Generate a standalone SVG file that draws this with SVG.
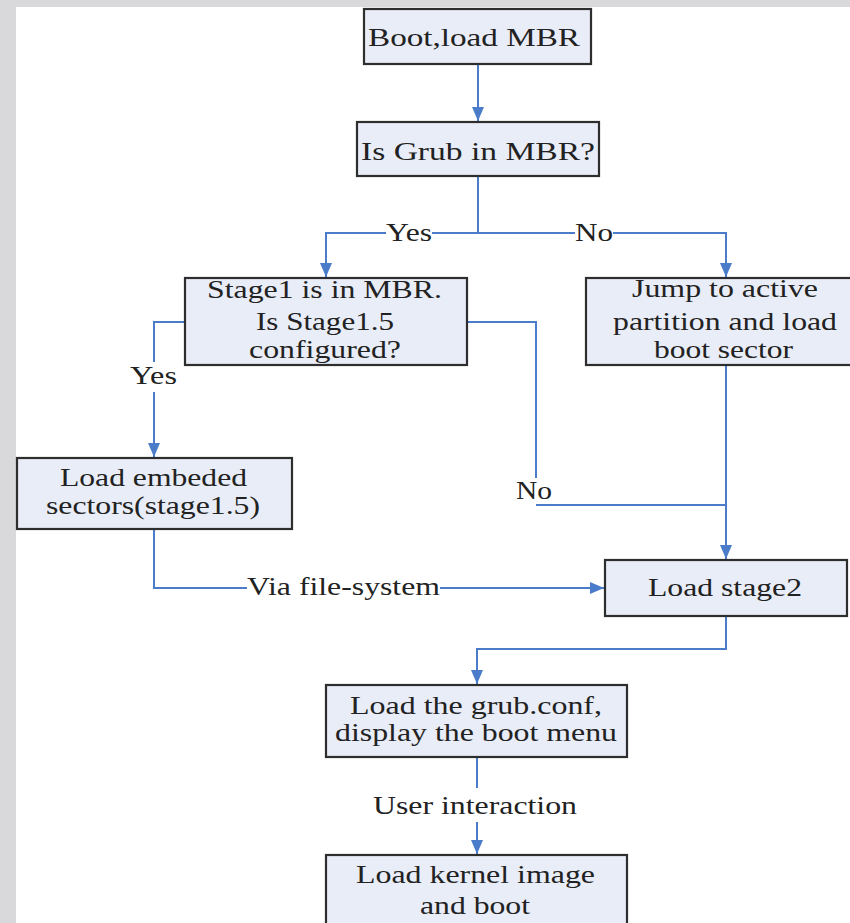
<svg xmlns="http://www.w3.org/2000/svg" width="850" height="923" viewBox="0 0 850 923">
<style>
.bg{fill:#d9d9db}
.box{fill:#e9edf7;stroke:#2e2e2e;stroke-width:2.2}
.t{font-family:"Liberation Serif","Times New Roman",serif;font-size:26px;fill:#222}
.c{fill:none;stroke:#4a7cc9;stroke-width:2}
</style>
<defs>
<marker id="ah" markerUnits="userSpaceOnUse" markerWidth="14" markerHeight="14" refX="14" refY="6" orient="auto">
<path d="M0,0 L14,6 L0,12 Z" fill="#4a7cc9"/>
</marker>
</defs>
<rect x="0" y="0" width="850" height="923" fill="#ffffff"/>
<rect class="bg" x="0" y="0" width="850" height="7"/>
<rect class="bg" x="0" y="0" width="16" height="923"/>

<g id="connectors">
<path class="c" d="M478,64 V121" marker-end="url(#ah)"/>
<path class="c" d="M478,176 V233"/>
<path class="c" d="M478,233 H432 M386,233 H326 V277" marker-end="url(#ah)"/>
<path class="c" d="M478,233 H575 M613,233 H726 V277" marker-end="url(#ah)"/>
<path class="c" d="M185,322 H154 V362 M154,392 V457" marker-end="url(#ah)"/>
<path class="c" d="M467,322 H536 V478"/>
<path class="c" d="M536,505 H726"/>
<path class="c" d="M726,365 V559" marker-end="url(#ah)"/>
<path class="c" d="M154,529 V588 H247 M440,588 H604" marker-end="url(#ah)"/>
<path class="c" d="M726,616 V649 H477 V684" marker-end="url(#ah)"/>
<path class="c" d="M477,757 V788 M477,822 V854" marker-end="url(#ah)"/>
<text class="t" x="386" y="241" textLength="46" lengthAdjust="spacingAndGlyphs">Yes</text>
<text class="t" x="575" y="241" textLength="38" lengthAdjust="spacingAndGlyphs">No</text>
<text class="t" x="130" y="384" textLength="47" lengthAdjust="spacingAndGlyphs">Yes</text>
<text class="t" x="516" y="499" textLength="36" lengthAdjust="spacingAndGlyphs">No</text>
<text class="t" x="247" y="595" textLength="193" lengthAdjust="spacingAndGlyphs">Via file-system</text>
<text class="t" x="373" y="814" textLength="204" lengthAdjust="spacingAndGlyphs">User interaction</text>
</g>

<g id="n1">
<rect class="box" x="364" y="9" width="227" height="55"/>
<text class="t" x="368" y="46" textLength="212" lengthAdjust="spacingAndGlyphs">Boot,load MBR</text>
</g>
<g id="n2">
<rect class="box" x="357" y="122" width="242" height="54"/>
<text class="t" x="361" y="160" textLength="234" lengthAdjust="spacingAndGlyphs">Is Grub in MBR?</text>
</g>
<g id="n3">
<rect class="box" x="185" y="278" width="282" height="87"/>
<text class="t" x="207" y="298" textLength="235" lengthAdjust="spacingAndGlyphs">Stage1 is in MBR.</text>
<text class="t" x="256" y="330" textLength="138" lengthAdjust="spacingAndGlyphs">Is Stage1.5</text>
<text class="t" x="249" y="358" textLength="152" lengthAdjust="spacingAndGlyphs">configured?</text>
</g>
<g id="n4">
<rect class="box" x="586" y="278" width="278" height="87"/>
<text class="t" x="632" y="297" textLength="186" lengthAdjust="spacingAndGlyphs">Jump to active</text>
<text class="t" x="613" y="330" textLength="224" lengthAdjust="spacingAndGlyphs">partition and load</text>
<text class="t" x="654" y="358" textLength="139" lengthAdjust="spacingAndGlyphs">boot sector</text>
</g>
<g id="n5">
<rect class="box" x="17" y="458" width="275" height="71"/>
<text class="t" x="60" y="486" textLength="187" lengthAdjust="spacingAndGlyphs">Load embeded</text>
<text class="t" x="46" y="514" textLength="214" lengthAdjust="spacingAndGlyphs">sectors(stage1.5)</text>
</g>
<g id="n6">
<rect class="box" x="605" y="560" width="242" height="56"/>
<text class="t" x="648" y="596" textLength="154" lengthAdjust="spacingAndGlyphs">Load stage2</text>
</g>
<g id="n7">
<rect class="box" x="326" y="685" width="301" height="72"/>
<text class="t" x="350" y="714" textLength="252" lengthAdjust="spacingAndGlyphs">Load the grub.conf,</text>
<text class="t" x="335" y="741" textLength="282" lengthAdjust="spacingAndGlyphs">display the boot menu</text>
</g>
<g id="n8">
<rect class="box" x="326" y="855" width="301" height="80"/>
<text class="t" x="356" y="883" textLength="239" lengthAdjust="spacingAndGlyphs">Load kernel image</text>
<text class="t" x="420" y="914" textLength="110" lengthAdjust="spacingAndGlyphs">and boot</text>
</g>
</svg>
